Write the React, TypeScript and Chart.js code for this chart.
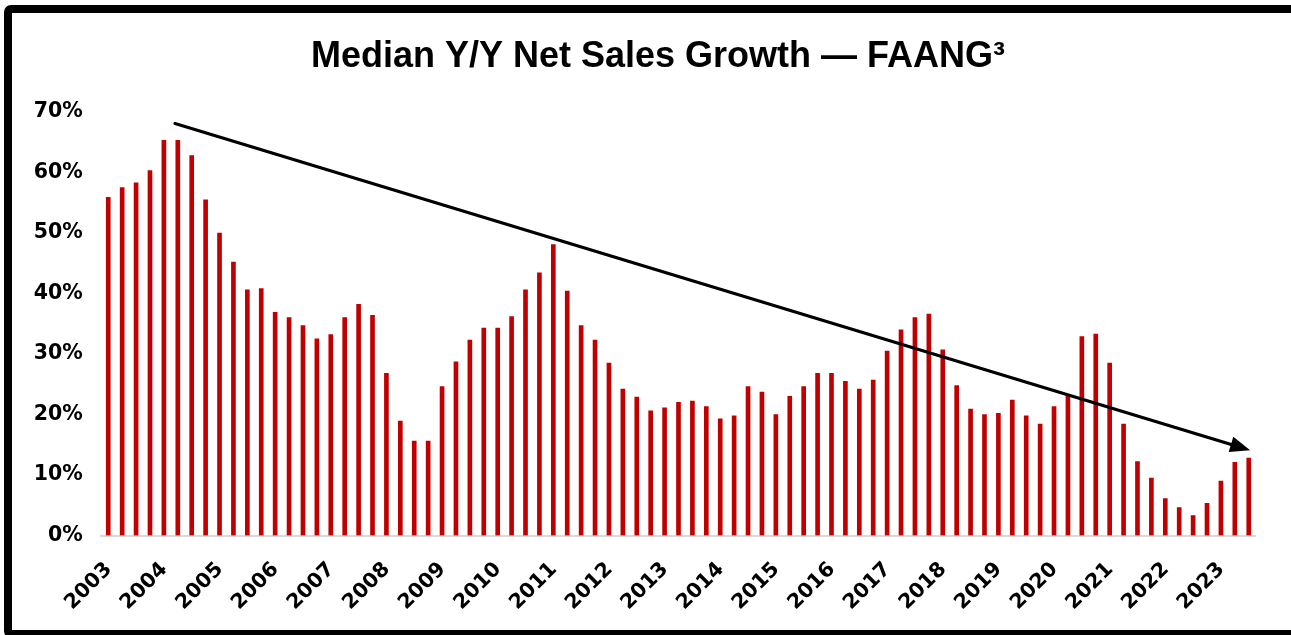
import React, { useEffect, useRef } from 'react';
import { Chart, registerables } from 'chart.js';

Chart.register(...registerables);

const titleText = 'Median Y/Y Net Sales Growth — FAANG³';

const years = [
  '2003', '2004', '2005', '2006', '2007', '2008', '2009', '2010', '2011', '2012',
  '2013', '2014', '2015', '2016', '2017', '2018', '2019', '2020', '2021', '2022', '2023',
];

const quarters = ['Q1', 'Q2', 'Q3', 'Q4'];

// Median Y/Y net sales growth (%), quarterly 2003 Q1 – 2023 Q3
const salesGrowth = [
  55.9, 57.5, 58.3, 60.3,
  65.3, 65.3, 62.8, 55.5,
  50.0, 45.2, 40.6, 40.8,
  36.9, 36.0, 34.7, 32.5,
  33.2, 36.0, 38.2, 36.4,
  26.8, 18.9, 15.6, 15.6,
  24.6, 28.7, 32.3, 34.3,
  34.3, 36.2, 40.6, 43.4,
  48.1, 40.4, 34.7, 32.3,
  28.5, 24.2, 22.9, 20.6,
  21.1, 22.0, 22.2, 21.3,
  19.3, 19.8, 24.6, 23.7,
  20.0, 23.0, 24.6, 26.8,
  26.8, 25.5, 24.2, 25.7,
  30.5, 34.0, 36.0, 36.6,
  30.7, 24.8, 20.9, 20.0,
  20.2, 22.4, 19.8, 18.4,
  21.3, 23.0, 32.9, 33.3,
  28.5, 18.4, 12.2, 9.5,
  6.1, 4.6, 3.3, 5.3,
  9.0, 12.1, 12.8,
];

const categories = years
  .flatMap((y) => quarters.map((q) => `${q} ${y}`))
  .slice(0, salesGrowth.length);

const yTicks = [0, 10, 20, 30, 40, 50, 60, 70];

// Trend arrow: [category index, value %]
const trendStart = [4.8, 68.1];
const trendEnd = [82.1, 14.1];

const tickFont = { family: '"DejaVu Sans", Verdana, sans-serif', size: 20.5, weight: 'bold' as const };

const arrowPlugin = {
  id: 'trendArrow',
  afterDatasetsDraw(chart: any) {
    const { ctx } = chart;
    const xs = chart.scales.x;
    const ys = chart.scales.y;
    const x0 = xs.getPixelForValue(trendStart[0]);
    const y0 = ys.getPixelForValue(trendStart[1]);
    const x1 = xs.getPixelForValue(trendEnd[0]);
    const y1 = ys.getPixelForValue(trendEnd[1]);
    const ang = Math.atan2(y1 - y0, x1 - x0);
    const c = Math.cos(ang);
    const s = Math.sin(ang);
    const headLen = 20;
    const headHalf = 8;
    const bx = x1 - headLen * c;
    const by = y1 - headLen * s;
    ctx.save();
    ctx.strokeStyle = '#000';
    ctx.fillStyle = '#000';
    ctx.lineWidth = 3.2;
    ctx.lineCap = 'round';
    ctx.beginPath();
    ctx.moveTo(x0, y0);
    ctx.lineTo(bx + 2 * c, by + 2 * s);
    ctx.stroke();
    ctx.beginPath();
    ctx.moveTo(x1, y1);
    ctx.lineTo(bx - headHalf * s, by + headHalf * c);
    ctx.lineTo(bx + headHalf * s, by - headHalf * c);
    ctx.closePath();
    ctx.fill();
    ctx.restore();
  },
};

export default function App() {
  const canvasRef = useRef<HTMLCanvasElement | null>(null);

  useEffect(() => {
    if (!canvasRef.current) return;
    const chart = new Chart(canvasRef.current, {
      type: 'bar',
      data: {
        labels: categories,
        datasets: [
          {
            label: 'Median Y/Y Net Sales Growth',
            data: salesGrowth,
            backgroundColor: '#C00000',
            borderWidth: 0,
            barThickness: 4,
          },
        ],
      },
      options: {
        animation: false,
        responsive: false,
        devicePixelRatio: 1,
        layout: { padding: 0 },
        plugins: {
          legend: { display: false },
          tooltip: { enabled: false },
          title: {
            display: true,
            text: titleText,
            color: '#000',
            font: { family: '"Liberation Sans", Arial, sans-serif', size: 36, weight: 'bold' },
            padding: { top: 35.5, bottom: 33.3 },
          },
        },
        scales: {
          x: {
            offset: true,
            grid: { display: false, drawTicks: false },
            border: { display: true, color: '#d9d9d9', width: 2 },
            ticks: {
              autoSkip: false,
              maxRotation: 45,
              minRotation: 45,
              padding: 22,
              labelOffset: 0.5,
              color: '#000',
              font: tickFont,
              callback: (_v: any, i: number) => (i % 4 === 0 ? years[i / 4] : ''),
            },
            afterFit: (scale: any) => {
              scale.height = 99.5;
            },
          },
          y: {
            min: 0,
            max: 70,
            grid: { display: false, drawTicks: false },
            border: { display: false },
            ticks: {
              padding: 18.6,
              color: '#000',
              font: tickFont,
              callback: (v: any) => `${v}%`,
            },
            afterBuildTicks: (scale: any) => {
              scale.ticks = yTicks.map((v) => ({ value: v }));
            },
            afterFit: (scale: any) => {
              scale.width = 101.3;
            },
          },
          yRightSpace: {
            type: 'linear',
            position: 'right',
            min: 0,
            max: 70,
            grid: { display: false, drawTicks: false },
            border: { display: false },
            ticks: { display: false },
            afterFit: (scale: any) => {
              scale.width = 60.3;
            },
          },
        },
      },
      plugins: [arrowPlugin],
    });
    return () => chart.destroy();
  }, []);

  return (
    <div
      style={{
        position: 'fixed',
        left: 0,
        top: 0,
        width: 1291,
        height: 635,
        overflow: 'hidden',
        background: '#fff',
      }}
    >
      <canvas
        ref={canvasRef}
        width={1316}
        height={635}
        style={{ position: 'absolute', left: 0, top: 0, width: 1316, height: 635 }}
      />
      <div
        style={{
          position: 'absolute',
          left: 4,
          top: 5,
          width: 1320,
          height: 633,
          border: '8px solid #000',
          borderRadius: 7,
          boxSizing: 'border-box',
          pointerEvents: 'none',
        }}
      />
    </div>
  );
}
